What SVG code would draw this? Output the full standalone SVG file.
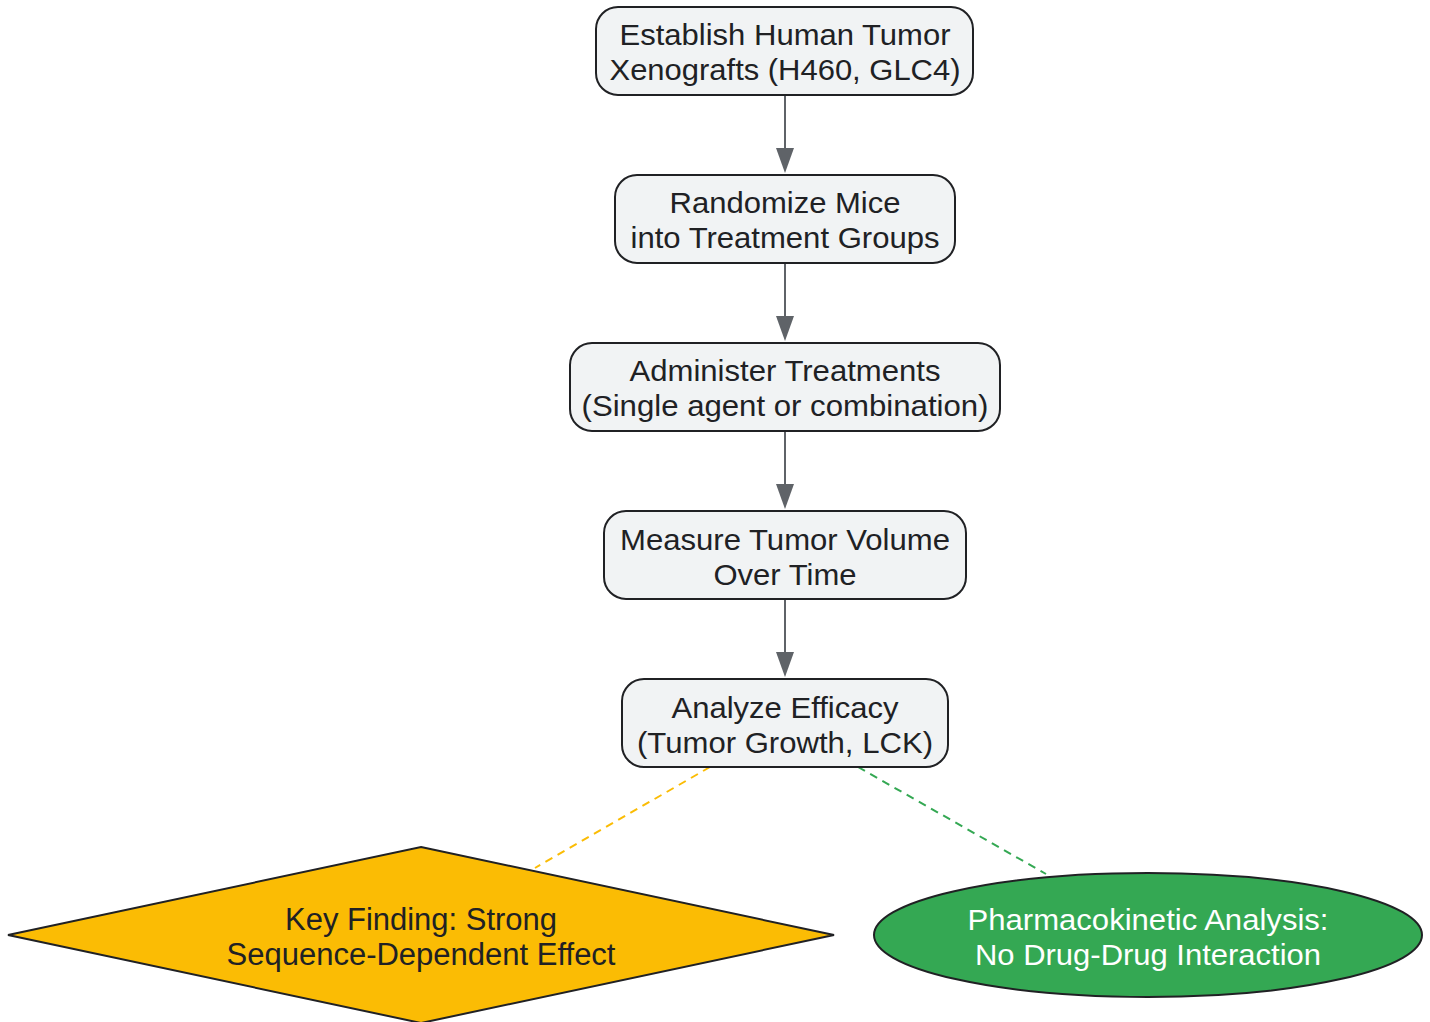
<svg xmlns="http://www.w3.org/2000/svg" width="1430" height="1022" viewBox="0 0 1430 1022">
<style>
.box{fill:#f1f3f4;stroke:#202124;stroke-width:2}
.t{font-family:"Liberation Sans",Arial,sans-serif;font-size:29px;fill:#202124;text-anchor:middle}
.tw{fill:#ffffff}
.arr{stroke:#5f6368;stroke-width:2;fill:none}
</style>
<rect width="1430" height="1022" fill="#ffffff"/>
<g id="connectors">
<line class="arr" x1="785" y1="95" x2="785" y2="150"/>
<path d="M776,148 L794,148 L785,173 Z" fill="#5f6368"/>
<line class="arr" x1="785" y1="263" x2="785" y2="318"/>
<path d="M776,316 L794,316 L785,341 Z" fill="#5f6368"/>
<line class="arr" x1="785" y1="431" x2="785" y2="486"/>
<path d="M776,484 L794,484 L785,509 Z" fill="#5f6368"/>
<line class="arr" x1="785" y1="599" x2="785" y2="654"/>
<path d="M776,652 L794,652 L785,677 Z" fill="#5f6368"/>
<line x1="710" y1="767" x2="535" y2="868" stroke="#fbbc04" stroke-width="2" stroke-dasharray="8,6"/>
<line x1="858" y1="767" x2="1046" y2="874" stroke="#34a853" stroke-width="2" stroke-dasharray="8,6"/>
</g>
<g id="n1">
<rect class="box" x="596" y="7" width="377" height="88" rx="22"/>
<text class="t" x="785" y="45" textLength="331" lengthAdjust="spacingAndGlyphs">Establish Human Tumor</text>
<text class="t" x="785" y="80" textLength="351" lengthAdjust="spacingAndGlyphs">Xenografts (H460, GLC4)</text>
</g>
<g id="n2">
<rect class="box" x="615" y="175" width="340" height="88" rx="22"/>
<text class="t" x="785" y="213" textLength="231" lengthAdjust="spacingAndGlyphs">Randomize Mice</text>
<text class="t" x="785" y="248" textLength="309" lengthAdjust="spacingAndGlyphs">into Treatment Groups</text>
</g>
<g id="n3">
<rect class="box" x="570" y="343" width="430" height="88" rx="22"/>
<text class="t" x="785" y="381" textLength="311" lengthAdjust="spacingAndGlyphs">Administer Treatments</text>
<text class="t" x="785" y="416" textLength="407" lengthAdjust="spacingAndGlyphs">(Single agent or combination)</text>
</g>
<g id="n4">
<rect class="box" x="604" y="511" width="362" height="88" rx="22"/>
<text class="t" x="785" y="550" textLength="330" lengthAdjust="spacingAndGlyphs">Measure Tumor Volume</text>
<text class="t" x="785" y="585" textLength="143" lengthAdjust="spacingAndGlyphs">Over Time</text>
</g>
<g id="n5">
<rect class="box" x="622" y="679" width="326" height="88" rx="22"/>
<text class="t" x="785" y="718" textLength="227" lengthAdjust="spacingAndGlyphs">Analyze Efficacy</text>
<text class="t" x="785" y="753" textLength="296" lengthAdjust="spacingAndGlyphs">(Tumor Growth, LCK)</text>
</g>
<g id="n6">
<polygon points="421,847 834,935 421,1023 8,935" fill="#fbbc04" stroke="#202124" stroke-width="2"/>
<text class="t" x="421" y="930" style="font-size:31px" textLength="272" lengthAdjust="spacingAndGlyphs">Key Finding: Strong</text>
<text class="t" x="421" y="965" style="font-size:31px" textLength="389" lengthAdjust="spacingAndGlyphs">Sequence-Dependent Effect</text>
</g>
<g id="n7">
<ellipse cx="1148" cy="935" rx="274" ry="62" fill="#34a853" stroke="#202124" stroke-width="2"/>
<text class="t tw" x="1148" y="930" textLength="361" lengthAdjust="spacingAndGlyphs">Pharmacokinetic Analysis:</text>
<text class="t tw" x="1148" y="965" textLength="346" lengthAdjust="spacingAndGlyphs">No Drug-Drug Interaction</text>
</g>
</svg>
